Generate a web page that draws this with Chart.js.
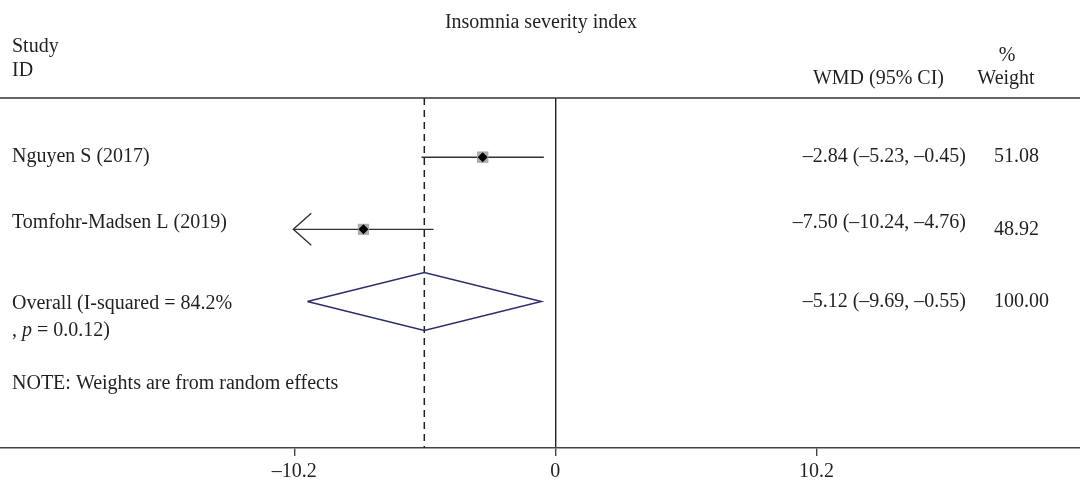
<!DOCTYPE html>
<html>
<head>
<meta charset="utf-8">
<script src="https://cdn.jsdelivr.net/npm/chart.js@4/dist/chart.umd.min.js"></script>
<style>
  body { margin: 0; background: #fff; }
</style>
</head>
<body>
<canvas id="forest" width="1080" height="485"></canvas>
<script>
// data
const studies = ["Nguyen S (2017)", "Tomfohr-Madsen L (2019)"];
const wmd = [-2.84, -7.50];
const ciLow = [-5.23, -10.24];
const ciHigh = [-0.45, -4.76];
const weights = [51.08, 48.92];

const overallLabel = ["Overall (I-squared = 84.2%", ", p = 0.0.12)"];
const overallWmd = -5.12;
const overallLow = -9.69;
const overallHigh = -0.55;
const overallWeight = 100.00;

const tickValues = [-10.2, 0, 10.2];
const noteText = "NOTE: Weights are from random effects";

const FONT = "'Liberation Serif', 'DejaVu Serif', serif";
const INK = "#231f20";

function fmt(v) {
  return v < 0 ? "\u2013" + Math.abs(v).toFixed(2) : v.toFixed(2);
}

// row 1..n = studies, then overall, then the note
const overallRow = studies.length + 1;
const noteRow = overallRow + 1.14;

const datasets = [];

// CI lines
studies.forEach((s, i) => {
  datasets.push({
    type: "line",
    data: [{ x: ciLow[i], y: i + 1 }, { x: ciHigh[i], y: i + 1 }],
    borderColor: "#333",
    borderWidth: 1.4,
    pointRadius: 0,
    order: 2
  });
});

// grey weight boxes
datasets.push({
  type: "scatter",
  data: wmd.map((v, i) => ({ x: v, y: i + 1 })),
  pointStyle: "rect",
  pointRadius: weights.map(w => 8 * Math.sqrt(w / 50)),
  backgroundColor: "#adadad",
  borderWidth: 0,
  order: 1
});

// black point estimates
datasets.push({
  type: "scatter",
  data: wmd.map((v, i) => ({ x: v, y: i + 1 })),
  pointStyle: "rectRot",
  pointRadius: 5,
  backgroundColor: "#000",
  borderWidth: 0,
  order: 0
});

// overall diamond
const dh = 0.4;
datasets.push({
  type: "line",
  data: [
    { x: overallLow, y: overallRow },
    { x: overallWmd, y: overallRow - dh },
    { x: overallHigh, y: overallRow },
    { x: overallWmd, y: overallRow + dh },
    { x: overallLow, y: overallRow }
  ],
  borderColor: "#2e2d6b",
  borderWidth: 1.5,
  pointRadius: 0,
  fill: false,
  tension: 0,
  order: 1
});

// dashed overall line
const yMin = 0.18, yMax = 5.03;
datasets.push({
  type: "line",
  data: [{ x: overallWmd, y: yMin }, { x: overallWmd, y: yMax }],
  borderColor: "#222",
  borderWidth: 1.5,
  borderDash: [7, 5],
  pointRadius: 0,
  order: 3
});

const textPlugin = {
  id: "forestText",
  afterDraw(chart) {
    const ctx = chart.ctx;
    const area = chart.chartArea;
    const xs = chart.scales.x;
    const ys = chart.scales.y;
    ctx.save();

    // header rule
    ctx.strokeStyle = "#333";
    ctx.lineWidth = 1.5;
    ctx.beginPath();
    ctx.moveTo(0, area.top);
    ctx.lineTo(chart.width, area.top);
    ctx.stroke();

    // arrow for truncated CI
    studies.forEach((s, i) => {
      if (ciLow[i] < tickValues[0]) {
        const px = xs.getPixelForValue(ciLow[i]);
        const py = ys.getPixelForValue(i + 1);
        ctx.lineWidth = 1.4;
        ctx.beginPath();
        ctx.moveTo(px + 18, py - 16);
        ctx.lineTo(px, py);
        ctx.lineTo(px + 18, py + 16);
        ctx.stroke();
      }
    });

    ctx.fillStyle = INK;
    ctx.font = "20px " + FONT;
    ctx.textBaseline = "middle";

    ctx.textAlign = "center";
    ctx.fillText("Insomnia severity index", 541, 23);
    ctx.fillText("%", 1007, 56);
    ctx.fillText("Weight", 1006, 79);
    ctx.textAlign = "left";
    ctx.fillText("Study", 12, 47);
    ctx.fillText("ID", 12, 71);
    ctx.textAlign = "right";
    ctx.fillText("WMD (95% CI)", 944, 79);

    studies.forEach((s, i) => {
      const py = ys.getPixelForValue(i + 1);
      const lift = i === 1 ? -7 : 0;
      ctx.textAlign = "left";
      ctx.fillText(s, 12, py + lift);
      ctx.textAlign = "right";
      ctx.fillText(fmt(wmd[i]) + " (" + fmt(ciLow[i]) + ", " + fmt(ciHigh[i]) + ")", 966, py + lift);
      ctx.textAlign = "left";
      ctx.fillText(weights[i].toFixed(2), 994, py);
    });

    const oy = ys.getPixelForValue(overallRow);
    ctx.textAlign = "left";
    ctx.fillText(overallLabel[0], 12, oy + 2);
    // second line with italic p
    let x = 12;
    ctx.fillText(", ", x, oy + 29);
    x += ctx.measureText(", ").width;
    ctx.font = "italic 20px " + FONT;
    ctx.fillText("p", x, oy + 29);
    x += ctx.measureText("p").width;
    ctx.font = "20px " + FONT;
    ctx.fillText(overallLabel[1].slice(3), x, oy + 29);
    ctx.textAlign = "right";
    ctx.fillText(fmt(overallWmd) + " (" + fmt(overallLow) + ", " + fmt(overallHigh) + ")", 966, oy);
    ctx.textAlign = "left";
    ctx.fillText(overallWeight.toFixed(2), 994, oy);

    ctx.fillText(noteText, 12, ys.getPixelForValue(noteRow));
    ctx.restore();
  }
};

Chart.defaults.font.family = FONT;

new Chart(document.getElementById("forest"), {
  type: "scatter",
  data: { datasets: datasets },
  options: {
    responsive: false,
    animation: false,
    layout: { autoPadding: false, padding: { top: 98, bottom: -3, left: 0, right: 0 } },
    plugins: { legend: { display: false }, tooltip: { enabled: false } },
    scales: {
      x: {
        type: "linear",
        min: -21.7,
        max: 20.5,
        afterBuildTicks: axis => { axis.ticks = tickValues.map(v => ({ value: v })); },
        ticks: {
          autoSkip: false,
          maxRotation: 0,
          padding: 6,
          color: INK,
          font: { size: 20, family: FONT, lineHeight: 1.0 },
          callback: v => (v < 0 ? "\u2013" + Math.abs(v) : String(v))
        },
        grid: {
          color: c => (c.tick && c.tick.value === 0 ? "#222" : "rgba(0,0,0,0)"),
          lineWidth: 1.4,
          tickLength: 8,
          tickColor: "#444",
          drawOnChartArea: true
        },
        border: { display: true, color: "#444", width: 1.5 }
      },
      y: {
        type: "linear",
        display: false,
        reverse: true,
        min: yMin,
        max: yMax
      }
    }
  },
  plugins: [textPlugin]
});
</script>
</body>
</html>
